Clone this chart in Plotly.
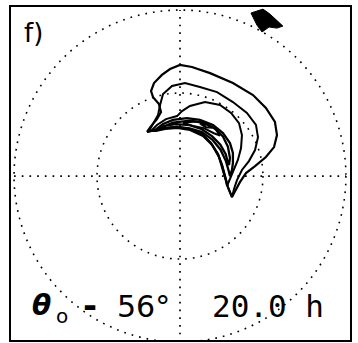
import plotly.graph_objects as go

# Projected sky coordinates (degrees of zenith angle, x to the right, y up)
RINGS = [45, 90]                      # dotted zenith-angle circles
AXIS_SPAN = 90                        # dotted cross lines

# shared concave edge of the crescent (left tip -> lower tip)
INNER_EDGE = [(-17.9, 23.9), (-13.6, 24.9), (-8.1, 26.0), (-1.6, 26.6), (5.4, 25.5),
              (11.9, 22.8), (16.8, 17.9), (20.6, 11.9), (22.8, 6.0), (24.4, 0.0),
              (26.0, -6.0), (28.2, -11.4)]

CONTOUR_1 = [(-17.9, 23.9), (-15.7, 27.1), (-12.5, 30.9), (-10.3, 34.7), (-11.4, 39.0),
             (-14.6, 42.8), (-15.7, 46.1), (-14.1, 50.4), (-9.8, 54.8), (-5.4, 58.0),
             (0.0, 60.2), (6.5, 59.1), (16.3, 55.8), (28.7, 50.4), (39.6, 43.9),
             (46.6, 36.9), (51.5, 29.3), (52.6, 22.2), (51.0, 15.7), (46.6, 10.3),
             (40.7, 5.4), (35.8, 1.6), (32.5, -3.3), (29.8, -8.1), (28.2, -11.4)]

CONTOUR_2 = [(-16.8, 24.4), (-14.6, 28.2), (-11.9, 33.1), (-10.8, 38.5), (-9.2, 44.5),
             (-4.3, 48.8), (2.7, 50.4), (10.8, 48.3), (20.1, 45.5), (28.7, 40.1),
             (36.3, 34.2), (41.2, 27.7), (42.3, 21.1), (40.7, 14.1), (37.4, 8.1),
             (33.6, 3.3), (30.9, -2.2), (29.3, -7.0), (28.2, -10.8)]

CONTOUR_3 = [(-15.7, 24.4), (-12.5, 27.7), (-7.6, 30.9), (-1.6, 32.5), (1.1, 35.2),
             (5.4, 38.0), (13.6, 40.1), (21.7, 38.5), (27.7, 34.2), (32.0, 28.7),
             (33.6, 22.2), (33.1, 15.2), (31.4, 8.7), (29.3, 3.3), (27.1, -1.6),
             (25.5, -5.4), (24.9, -2.7), (23.3, 3.3), (21.1, 10.3), (17.4, 16.8),
             (12.5, 21.7), (5.4, 24.9), (-1.6, 26.0), (-8.1, 25.5), (-13.0, 24.4),
             (-15.7, 24.4)]

CONTOUR_4 = [(-13.6, 24.9), (-9.2, 28.2), (-3.8, 30.4), (3.8, 31.4), (10.8, 30.4),
             (17.9, 27.7), (23.3, 23.3), (27.1, 17.9), (28.7, 12.5), (28.7, 7.0),
             (28.2, 3.3), (27.1, 0.0), (26.5, 2.5), (24.9, 8.1), (22.0, 14.3),
             (17.5, 19.8), (11.9, 23.8), (5.2, 25.9), (-1.5, 26.6), (-7.7, 26.0),
             (-12.0, 25.0), (-13.6, 24.9)]

CONTOUR_5 = [(-10.8, 26.0), (-3.8, 28.9), (5.4, 30.0), (12.5, 29.0), (19.0, 25.8),
             (23.3, 21.4), (26.0, 15.9), (27.1, 9.8), (26.6, 6.0), (26.0, 7.2),
             (24.8, 11.9), (21.9, 17.0), (17.5, 21.5), (11.9, 25.4), (5.2, 27.6),
             (-2.1, 28.1), (-8.2, 27.4), (-10.8, 26.0)]

CONTOUR_6 = [(1.6, 28.7), (8.1, 29.6), (14.6, 28.4), (19.5, 25.1), (21.7, 21.9),
             (18.4, 23.2), (13.0, 26.0), (7.0, 27.2), (1.6, 28.7)]

CONTOUR_7 = [(10.8, 28.4), (14.6, 27.9), (17.4, 26.2), (14.1, 26.5), (10.8, 28.4)]

SUN_MARKER = [(38.5, 88.4), (45.0, 90.5), (48.8, 87.8), (55.8, 81.3), (52.6, 80.2),
              (48.3, 80.8), (44.5, 78.1), (41.7, 81.9), (38.5, 88.4)]

PANEL_LABEL = "f)"
THETA_LABEL = "<i><b>θ</b></i>"
THETA_SUB = "o"
DASH_LABEL = "<b>-</b>"
ANGLE_LABEL = "56°"
TIME_LABEL = "20.0 h"

fig = go.Figure()

DOT = "1.7px,6px"
# dotted cross
fig.add_trace(go.Scatter(x=[-AXIS_SPAN, AXIS_SPAN], y=[0, 0], mode="lines",
                         line=dict(color="black", width=1.7, dash=DOT), hoverinfo="skip"))
fig.add_trace(go.Scatter(x=[0, 0], y=[-AXIS_SPAN, AXIS_SPAN], mode="lines",
                         line=dict(color="black", width=1.7, dash=DOT), hoverinfo="skip"))
for r in RINGS:
    fig.add_shape(type="circle", xref="x", yref="y", x0=-r, x1=r, y0=-r, y1=r,
                  line=dict(color="black", width=1.6, dash=DOT))


def closed_with_inner(outer):
    return list(outer) + list(reversed(INNER_EDGE))


contours = [closed_with_inner(CONTOUR_1), closed_with_inner(CONTOUR_2),
            CONTOUR_3, CONTOUR_4, CONTOUR_5, CONTOUR_6, CONTOUR_7]
widths = [2.2, 2.0, 2.0, 2.3, 2.3, 2.0, 2.0]
for pts, w in zip(contours, widths):
    fig.add_trace(go.Scatter(x=[p[0] for p in pts], y=[p[1] for p in pts], mode="lines",
                             line=dict(color="black", width=w), hoverinfo="skip"))

fig.add_trace(go.Scatter(x=[p[0] for p in SUN_MARKER], y=[p[1] for p in SUN_MARKER],
                         mode="lines", fill="toself", fillcolor="black",
                         line=dict(color="black", width=1), hoverinfo="skip"))

sans = "DejaVu Sans"
fig.add_annotation(x=-85.5, y=77.5, text=PANEL_LABEL, showarrow=False, xanchor="left",
                   yanchor="middle", font=dict(family=sans, size=26, color="black"))
fig.add_annotation(x=-81.5, y=-70.0, text=THETA_LABEL, showarrow=False, xanchor="left",
                   yanchor="middle", font=dict(family=sans, size=28, color="black"))
fig.add_annotation(x=-64.0, y=-76.0, text=THETA_SUB, showarrow=False, xanchor="center",
                   yanchor="middle", font=dict(family=sans, size=20, color="black"))
fig.add_annotation(x=-49.0, y=-70.0, text=DASH_LABEL, showarrow=False, xanchor="center",
                   yanchor="middle", font=dict(family=sans, size=34, color="black"))
fig.add_annotation(x=-35.5, y=-70.5, text=ANGLE_LABEL, showarrow=False, xanchor="left",
                   yanchor="middle", font=dict(family=sans, size=30, color="black"))
fig.add_annotation(x=16.0, y=-70.5, text=TIME_LABEL, showarrow=False, xanchor="left",
                   yanchor="middle", font=dict(family="DejaVu Sans Mono", size=31, color="black"))

fig.update_layout(
    width=358, height=343, margin=dict(l=11, r=8, t=7, b=3),
    paper_bgcolor="white", plot_bgcolor="white", showlegend=False,
    xaxis=dict(range=[-91.65, 92.2], showgrid=False, zeroline=False, showticklabels=False,
               ticks="", showline=True, mirror=True, linecolor="black", linewidth=1.8),
    yaxis=dict(range=[-88.9, 91.65], showgrid=False, zeroline=False, showticklabels=False,
               ticks="", showline=True, mirror=True, linecolor="black", linewidth=1.8),
)

fig.write_html("out.html")
